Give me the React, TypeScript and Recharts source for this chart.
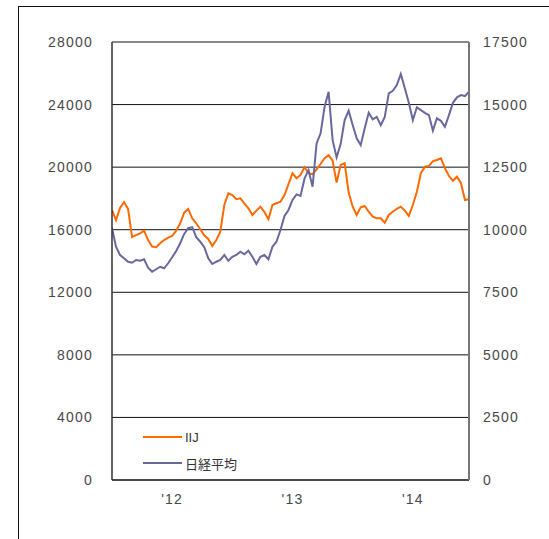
import React from "react";
import {
	CartesianGrid,
	Legend,
	Line,
	LineChart,
	XAxis,
	YAxis
} from "recharts";

// one sample roughly every 12 days, July 2011 .. June 2014
const iijValues = [
	17260, 16620, 17390, 17770, 17330, 15530, 15660, 15770, 15940, 15340,
	14920, 14880, 15130, 15340, 15490, 15600, 15940, 16410, 17090, 17330,
	16730, 16410, 16030, 15640, 15410, 14960, 15340, 15870, 17580, 18330,
	18220, 17950, 18010, 17690, 17370, 16940, 17220, 17470, 17130, 16670,
	17580, 17690, 17790, 18220, 18920, 19610, 19290, 19500, 19990, 19610,
	19540, 19860, 20200, 20570, 20760, 20410, 19010, 20140, 20250, 18370,
	17470, 16940, 17430, 17520, 17150, 16830, 16730, 16730, 16450, 16940,
	17150, 17340, 17470, 17220, 16880, 17580, 18430, 19610, 20030, 20070,
	20390, 20460, 20570, 19930, 19430, 19130, 19390, 18970, 17900, 17950
];

const nikkeiValues = [
	10070, 9320, 8990, 8860, 8720, 8680, 8790, 8760, 8820, 8480,
	8320, 8420, 8520, 8460, 8660, 8900, 9150, 9460, 9830, 10060,
	10100, 9700, 9520, 9300, 8860, 8630, 8720, 8790, 8990, 8760,
	8920, 8990, 9120, 9020, 9160, 8920, 8630, 8920, 8990, 8820,
	9320, 9520, 9990, 10550, 10790, 11190, 11410, 11350, 12050, 12380,
	11720, 13450, 13850, 14910, 15510, 13580, 12890, 13420, 14380, 14750,
	14180, 13650, 13380, 14050, 14670, 14410, 14510, 14180, 14510, 15450,
	15550, 15780, 16220, 15650, 15070, 14380, 14890, 14780, 14670, 14580,
	13960, 14450, 14350, 14110, 14580, 15070, 15290, 15380, 15340, 15510
];

// months counted from Jan 2011
const sampleMonths = iijValues.map((_, i) => 6 + i * 0.4);

const yearTicks = [12, 24, 36];
const yearLabels = ["'12", "'13", "'14"];

const leftTicks = [0, 4000, 8000, 12000, 16000, 20000, 24000, 28000];
const rightTicks = [0, 2500, 5000, 7500, 10000, 12500, 15000, 17500];

const seriesNames = ["IIJ", "日経平均"];
const seriesColors = ["#ff6a00", "#68689e"];

const data = sampleMonths.map((m, i) => ({
	m,
	iij: iijValues[i],
	nikkei: nikkeiValues[i]
}));

const tickFont = {
	fontSize: 14,
	fontFamily: "'Liberation Sans', Arial, sans-serif",
	fill: "#484848",
	letterSpacing: 1.2
};

function LegendBox() {
	return (
		<div style={{ fontFamily: "'Liberation Sans', 'Noto Sans CJK JP', sans-serif", fontSize: 13, color: "#333" }}>
			{seriesNames.map((name, i) => (
				<div key={name} style={{ display: "flex", alignItems: "center", height: 26 }}>
					<span style={{ display: "inline-block", width: 39, borderTop: `2px solid ${seriesColors[i]}` }} />
					<span style={{ marginLeft: 3 }}>{name}</span>
				</div>
			))}
		</div>
	);
}

export default function App() {
	return (
		<div style={{ position: "absolute", left: 0, top: 0, width: 549, height: 539, overflow: "hidden", background: "#fff" }}>
			<div
				style={{
					position: "absolute",
					left: 18,
					top: 6,
					width: 600,
					height: 600,
					borderLeft: "1px solid #111",
					borderTop: "1px solid #111"
				}}
			/>
			<LineChart
				width={549}
				height={539}
				data={data}
				margin={{ top: 42, right: 0, bottom: 0, left: 0 }}
				style={{ position: "absolute", left: 0, top: 0 }}
			>
				<CartesianGrid vertical={false} stroke="#111" strokeWidth={1} yAxisId="left" />
				<XAxis
					dataKey="m"
					type="number"
					domain={[6, 41.6]}
					ticks={yearTicks}
					tickFormatter={(v: number) => yearLabels[yearTicks.indexOf(v)]}
					height={59}
					tickLine={false}
					tickSize={0}
					tickMargin={14}
					axisLine={{ stroke: "#333", strokeWidth: 1.5 }}
					tick={tickFont}
					allowDataOverflow
				/>
				<YAxis
					yAxisId="left"
					orientation="left"
					domain={[0, 28000]}
					ticks={leftTicks}
					width={112}
					tickLine={false}
					tickSize={0}
					tickMargin={19}
					axisLine={{ stroke: "#333", strokeWidth: 1.5 }}
					tick={tickFont}
				/>
				<YAxis
					yAxisId="right"
					orientation="right"
					domain={[0, 17500]}
					ticks={rightTicks}
					width={80}
					tickLine={false}
					tickSize={0}
					tickMargin={14}
					axisLine={{ stroke: "#777", strokeWidth: 2 }}
					tick={{ ...tickFont, textAnchor: "start" }}
				/>
				<Legend
					layout="vertical"
					align="center"
					verticalAlign="middle"
					wrapperStyle={{ left: 143, top: 424, width: 120 }}
					content={() => <LegendBox />}
				/>
				<Line
					yAxisId="left"
					dataKey="iij"
					name={seriesNames[0]}
					stroke={seriesColors[0]}
					strokeWidth={2}
					dot={false}
					type="linear"
					isAnimationActive={false}
				/>
				<Line
					yAxisId="right"
					dataKey="nikkei"
					name={seriesNames[1]}
					stroke={seriesColors[1]}
					strokeWidth={2}
					dot={false}
					type="linear"
					isAnimationActive={false}
				/>
			</LineChart>
		</div>
	);
}
